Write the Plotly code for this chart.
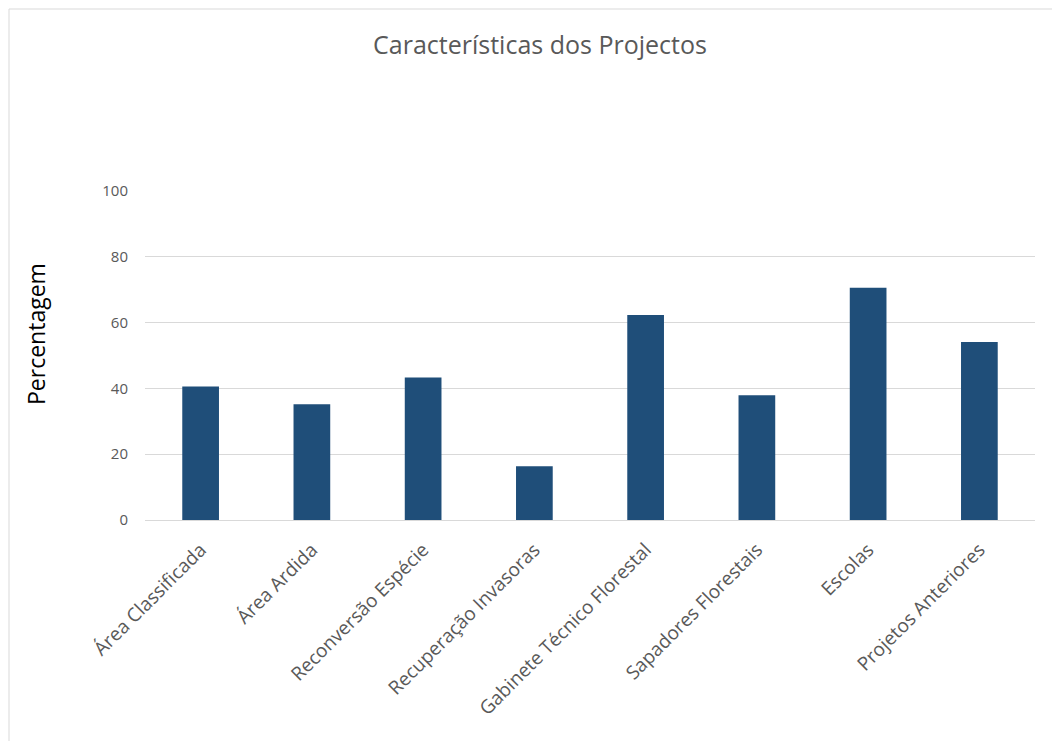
import plotly.graph_objects as go

categories = ["Área Classificada", "Área Ardida", "Reconversão Espécie",
              "Recuperação Invasoras", "Gabinete Técnico Florestal",
              "Sapadores Florestais", "Escolas", "Projetos Anteriores"]
values = [40.6, 35.2, 43.3, 16.3, 62.3, 37.9, 70.6, 54.1]
y_ticks = [0, 20, 40, 60, 80, 100]

W, H = 1060, 741
OFF = 8  # page body margin offset
# target plot area in screenshot pixels
PX0, PX1, PY0, PY1 = 145, 1035, 191, 520
pw, ph = PX1 - PX0, PY1 - PY0
L, T = PX0 - OFF, PY0 - OFF
R, B = W - L - pw, H - T - ph

def px_x(x):
    return (x - PX0) / pw

def px_y(y):
    return (PY1 - y) / ph

fig = go.Figure(go.Bar(x=categories, y=values, marker_color="#1f4e79",
                       marker_line_width=0))

fig.update_layout(
    width=W, height=H,
    margin=dict(l=L, r=R, t=T, b=B),
    paper_bgcolor="white", plot_bgcolor="white",
    bargap=0.67,
    showlegend=False,
    font=dict(family="Open Sans, Noto Sans, sans-serif", color="#595959"),
    title=dict(text="Características dos Projectos", x=(540 - OFF) / W,
               xanchor="center",
               y=1 - (45 - OFF) / H, yanchor="middle",
               font=dict(size=25, color="#595959")),
    xaxis=dict(tickangle=-45, tickfont=dict(size=19, color="#595959"),
               showgrid=False, showline=False, ticks="",
               ticklabelstandoff=14),
    yaxis=dict(range=[0, 100], tickvals=y_ticks, showgrid=True,
               gridcolor="#d9d9d9", gridwidth=1, zeroline=True,
               zerolinecolor="#d9d9d9", zerolinewidth=1,
               tickfont=dict(size=15, color="#595959"),
               ticklabelstandoff=16),
    annotations=[dict(text="Percentagem", textangle=-90, xref="paper",
                      yref="paper", x=px_x(36), y=px_y(334),
                      showarrow=False, xanchor="center", yanchor="middle",
                      font=dict(size=23, color="#000000"))],
    shapes=[dict(type="rect", xref="paper", yref="paper",
                 x0=px_x(OFF + 1), x1=px_x(1055), y0=px_y(760),
                 y1=px_y(OFF + 1),
                 line=dict(color="#d9d9d9", width=1), layer="below")],
)

fig.write_html("out.html")
